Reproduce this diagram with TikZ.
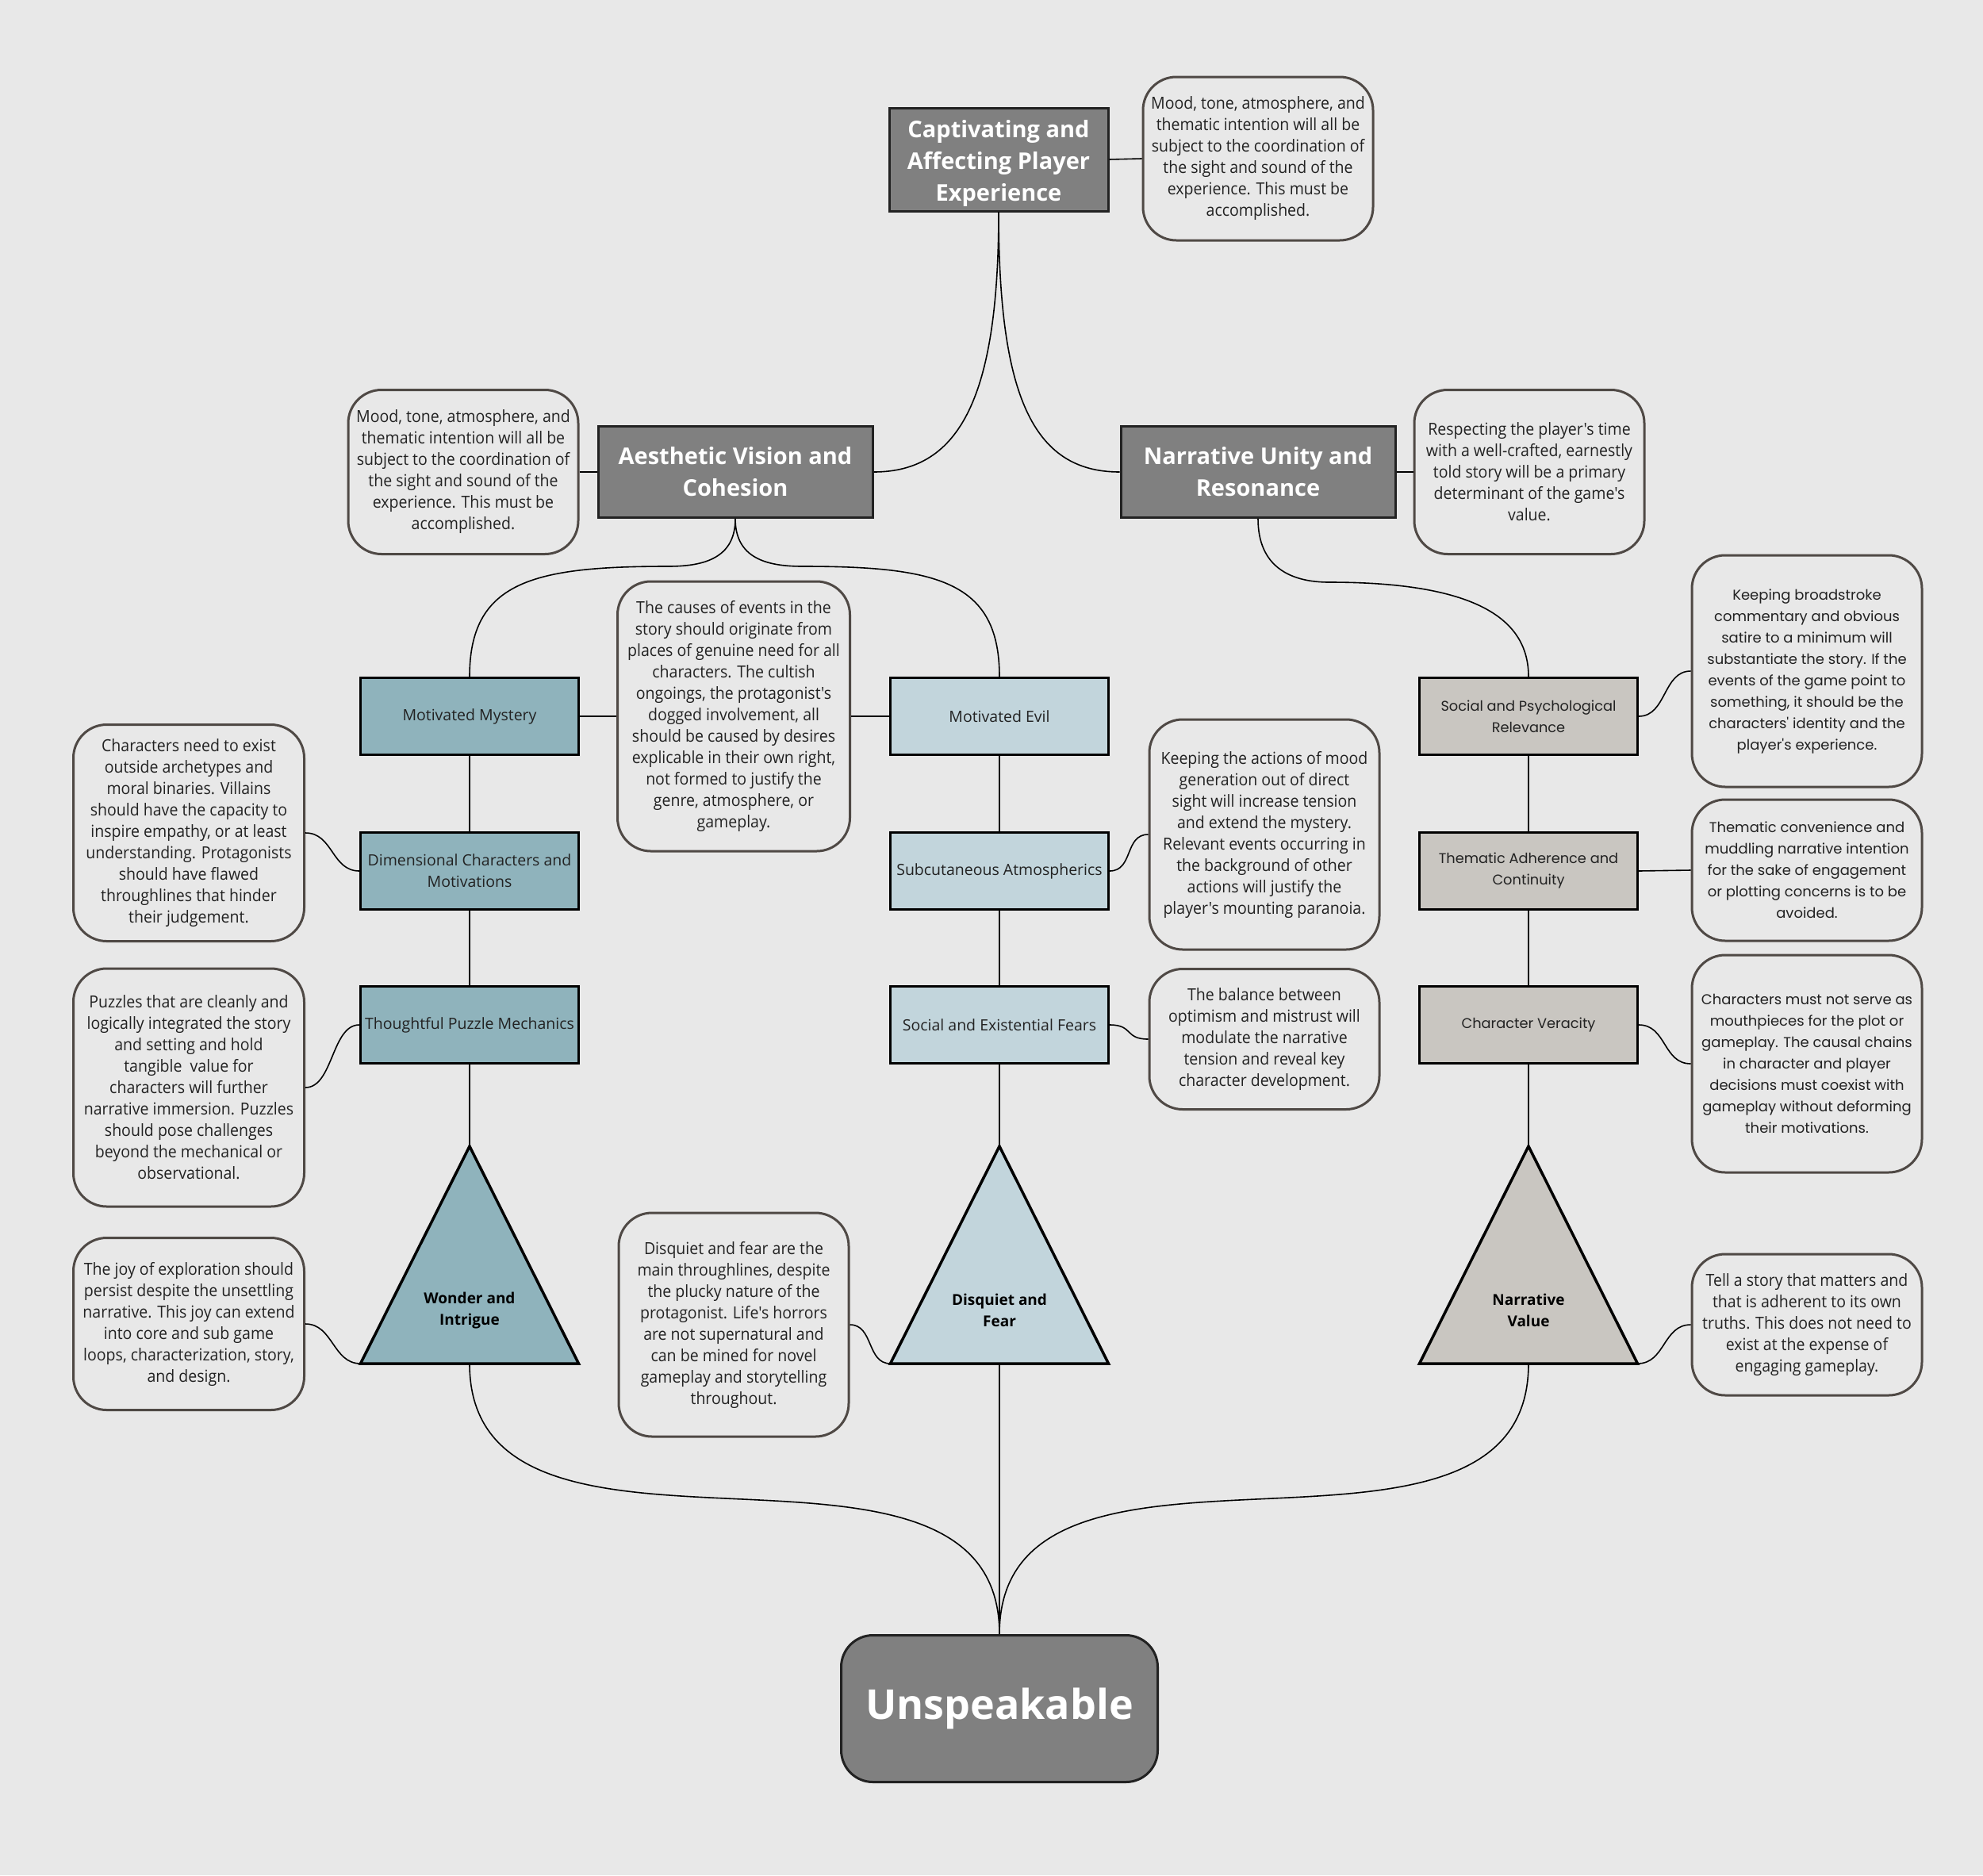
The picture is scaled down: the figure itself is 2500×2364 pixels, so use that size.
\documentclass[tikz,border=0pt]{standalone}
\usepackage{fontspec}
\setmainfont{Open Sans}
\newfontfamily\condfont[FakeStretch=0.93]{Open Sans}
\newfontfamily\widefont{Poppins}
\usepackage{tikz}
\usetikzlibrary{positioning, calc}
\definecolor{bggray}{RGB}{232,232,232}
\definecolor{headgray}{RGB}{128,128,128}
\definecolor{edgedark}{RGB}{34,34,34}
\definecolor{tealfill}{RGB}{143,179,188}
\definecolor{mistfill}{RGB}{194,213,220}
\definecolor{stonefill}{RGB}{201,198,193}
\definecolor{notebrown}{RGB}{79,73,69}
\definecolor{inkdark}{RGB}{34,34,34}
\tikzset{
  headbox/.style={rectangle, draw=edgedark, line width=3pt, fill=headgray,
    text=white, inner sep=0pt, align=center, minimum height=115pt,
    font=\bfseries\fontsize{29}{40}\selectfont},
  leafbox/.style={rectangle, draw=black, line width=3pt, inner sep=0pt,
    minimum width=275pt, minimum height=97pt, align=center, text=inkdark,
    font=\fontsize{19.5}{27}\selectfont},
  tealbox/.style={leafbox, fill=tealfill},
  mistbox/.style={leafbox, fill=mistfill},
  stonebox/.style={leafbox, fill=stonefill, font=\widefont\fontsize{17.8}{27}\selectfont},
  note/.style={rectangle, rounded corners=42pt, draw=notebrown, line width=3pt,
    fill=bggray, inner sep=0pt, minimum width=290pt, align=center, text=inkdark,
    font=\condfont\fontsize{21}{27}\selectfont},
  widenote/.style={note, font=\widefont\fontsize{18}{27}\selectfont},
  tri/.style={draw=black, line width=3.5pt, line join=miter},
  trilabel/.style={inner sep=0pt, align=center, text=black,
    font=\bfseries\fontsize{19}{27}\selectfont},
  link/.style={draw=black, line width=1.6pt},
}
\begin{document}
\begin{tikzpicture}[x=1pt, y=-1pt]
  \useasboundingbox (0,0) rectangle (2500,2364);
  \fill[bggray] (0,0) rectangle (2500,2364);

  % Top goal and its note
  \node[headbox, minimum width=276pt, minimum height=130pt] (goal) at (1259,201)
    {\rule{0pt}{32pt}Captivating and\\Affecting Player\\Experience};
  \node[note, minimum height=206pt] (goalnote) at (1586,200)
    {Mood, tone, atmosphere, and\\thematic intention will all be\\subject to the coordination of\\the sight and sound of the\\experience. This must be\\accomplished.};

  % Two pillars
  \node[headbox, minimum width=346pt] (aes) at (927,595)
    {Aesthetic Vision and\\Cohesion};
  \node[note, minimum height=207pt] (aesnote) at (584,595)
    {Mood, tone, atmosphere, and\\thematic intention will all be\\subject to the coordination of\\the sight and sound of the\\experience. This must be\\accomplished.};
  \node[headbox, minimum width=346pt] (nar) at (1586,595)
    {Narrative Unity and\\Resonance};
  \node[note, minimum height=207pt] (narnote) at (1928,595)
    {Respecting the player's time\\with a well-crafted, earnestly\\told story will be a primary\\determinant of the game's\\value.};

  % Left column
  \node[tealbox] (mystery) at (592,903) {Motivated Mystery};
  \node[tealbox] (dimchar) at (592,1098) {Dimensional Characters and\\Motivations};
  \node[tealbox] (puzzle) at (592,1292) {Thoughtful Puzzle Mechanics};
  \coordinate (wtop) at (592,1445);
  \coordinate (wleft) at (454.5,1719);
  \coordinate (wright) at (729.5,1719);
  \coordinate (wbase) at (592,1719);
  \draw[tri, fill=tealfill] (wtop) -- (wright) -- (wleft) -- cycle;
  \node[trilabel] (wonder) at (592,1652) {Wonder and\\Intrigue};

  \node[note, minimum width=293pt, minimum height=340pt] (mysterynote) at (925,903)
    {The causes of events in the\\story should originate from\\places of genuine need for all\\characters. The cultish\\ongoings, the protagonist's\\dogged involvement, all\\should be caused by desires\\explicable in their own right,\\not formed to justify the\\genre, atmosphere, or\\gameplay.};
  \node[note, minimum width=291pt, minimum height=273pt] (dimnote) at (238,1050)
    {Characters need to exist\\outside archetypes and\\moral binaries. Villains\\should have the capacity to\\inspire empathy, or at least\\understanding. Protagonists\\should have flawed\\throughlines that hinder\\their judgement.};
  \node[note, minimum width=291pt, minimum height=300pt] (puzzlenote) at (238,1371)
    {Puzzles that are cleanly and\\logically integrated the story\\and setting and hold\\tangible\ \ value for\\characters will further\\narrative immersion. Puzzles\\should pose challenges\\beyond the mechanical or\\observational.};
  \node[note, minimum width=291pt, minimum height=217pt] (wondernote) at (238,1669)
    {The joy of exploration should\\persist despite the unsettling\\narrative. This joy can extend\\into core and sub game\\loops, characterization, story,\\and design.};

  % Middle column
  \node[mistbox] (evil) at (1260,903) {Motivated Evil};
  \node[mistbox] (atmos) at (1260,1098) {Subcutaneous Atmospherics};
  \node[mistbox] (fears) at (1260,1292) {Social and Existential Fears};
  \coordinate (dtop) at (1260,1445);
  \coordinate (dleft) at (1122.5,1719);
  \coordinate (dright) at (1397.5,1719);
  \coordinate (dbase) at (1260,1719);
  \draw[tri, fill=mistfill] (dtop) -- (dright) -- (dleft) -- cycle;
  \node[trilabel] (disquiet) at (1260,1652) {Disquiet and\\Fear};

  \node[note, minimum height=290pt] (atmosnote) at (1594,1052)
    {Keeping the actions of mood\\generation out of direct\\sight will increase tension\\and extend the mystery.\\Relevant events occurring in\\the background of other\\actions will justify the\\player's mounting paranoia.};
  \node[note, minimum height=177pt] (fearsnote) at (1594,1310)
    {The balance between\\optimism and mistrust will\\modulate the narrative\\tension and reveal key\\character development.};
  \node[note, minimum height=282pt] (disquietnote) at (925,1670)
    {Disquiet and fear are the\\main throughlines, despite\\the plucky nature of the\\protagonist. Life's horrors\\are not supernatural and\\can be mined for novel\\gameplay and storytelling\\throughout.};

  % Right column
  \node[stonebox] (social) at (1927,903) {Social and Psychological\\Relevance};
  \node[stonebox] (theme) at (1927,1098) {Thematic Adherence and\\Continuity};
  \node[stonebox] (veracity) at (1927,1292) {Character Veracity};
  \coordinate (ntop) at (1927,1445);
  \coordinate (nleft) at (1789.5,1719);
  \coordinate (nright) at (2064.5,1719);
  \coordinate (nbase) at (1927,1719);
  \draw[tri, fill=stonefill] (ntop) -- (nright) -- (nleft) -- cycle;
  \node[trilabel] (value) at (1927,1652) {Narrative\\Value};

  \node[widenote, minimum height=292pt] (socialnote) at (2278,846)
    {Keeping broadstroke\\commentary and obvious\\satire to a minimum will\\substantiate the story. If the\\events of the game point to\\something, it should be the\\characters' identity and the\\player's experience.};
  \node[widenote, minimum height=178pt] (themenote) at (2278,1097)
    {Thematic convenience and\\muddling narrative intention\\for the sake of engagement\\or plotting concerns is to be\\avoided.};
  \node[widenote, minimum height=274pt] (veracitynote) at (2278,1341)
    {Characters must not serve as\\mouthpieces for the plot or\\gameplay. The causal chains\\in character and player\\decisions must coexist with\\gameplay without deforming\\their motivations.};
  \node[note, minimum height=178pt] (valuenote) at (2278,1670)
    {Tell a story that matters and\\that is adherent to its own\\truths. This does not need to\\exist at the expense of\\engaging gameplay.};

  % Root
  \node[headbox, rounded corners=40pt, minimum width=399pt, minimum height=185pt,
    font=\bfseries\fontsize{52}{60}\selectfont] (root) at (1260,2154)
    {\raisebox{-6pt}{Unspeakable}};

  % Tree links
  \draw[link] (goal.south) .. controls +(0,230) and +(110,0) .. (aes.east);
  \draw[link] (goal.south) .. controls +(0,230) and +(-110,0) .. (nar.west);
  \draw[link] (aes.south) .. controls +(0,50) and +(45,0) .. +(-85,60)
    .. controls +(-170,0) and +(0,-120) .. (mystery.north);
  \draw[link] (aes.south) .. controls +(0,50) and +(-45,0) .. +(85,60)
    .. controls +(170,0) and +(0,-120) .. (evil.north);
  \draw[link] (nar.south) .. controls +(0,60) and +(-50,0) .. +(90,80)
    .. controls +(190,0) and +(0,-70) .. (social.north);
  \draw[link] (mystery) -- (dimchar);
  \draw[link] (dimchar) -- (puzzle);
  \draw[link] (puzzle) -- (wtop);
  \draw[link] (evil) -- (atmos);
  \draw[link] (atmos) -- (fears);
  \draw[link] (fears) -- (dtop);
  \draw[link] (social) -- (theme);
  \draw[link] (theme) -- (veracity);
  \draw[link] (veracity) -- (ntop);
  \draw[link] (wbase) .. controls +(0,310) and +(0,-310) .. (root.north);
  \draw[link] (dbase) -- (root.north);
  \draw[link] (nbase) .. controls +(0,310) and +(0,-310) .. (root.north);

  % Note links
  \draw[link] (goal.east) -- (goalnote.west);
  \draw[link] (aesnote.east) -- (aes.west);
  \draw[link] (nar.east) -- (narnote.west);
  \draw[link] (mystery.east) -- (mysterynote.west);
  \draw[link] (mysterynote.east) -- (evil.west);
  \draw[link] (dimnote.east) .. controls +(35,0) and +(-35,0) .. (dimchar.west);
  \draw[link] (puzzlenote.east) .. controls +(35,0) and +(-35,0) .. (puzzle.west);
  \draw[link] (wondernote.east) .. controls +(35,0) and +(-35,0) .. (wleft);
  \draw[link] (atmos.east) .. controls +(30,0) and +(-30,0) .. (atmosnote.west);
  \draw[link] (fears.east) .. controls +(30,0) and +(-30,0) .. (fearsnote.west);
  \draw[link] (disquietnote.east) .. controls +(30,0) and +(-30,0) .. (dleft);
  \draw[link] (social.east) .. controls +(35,0) and +(-35,0) .. (socialnote.west);
  \draw[link] (theme.east) -- (themenote.west);
  \draw[link] (veracity.east) .. controls +(35,0) and +(-35,0) .. (veracitynote.west);
  \draw[link] (nright) .. controls +(35,0) and +(-35,0) .. (valuenote.west);
\end{tikzpicture}
\end{document}
